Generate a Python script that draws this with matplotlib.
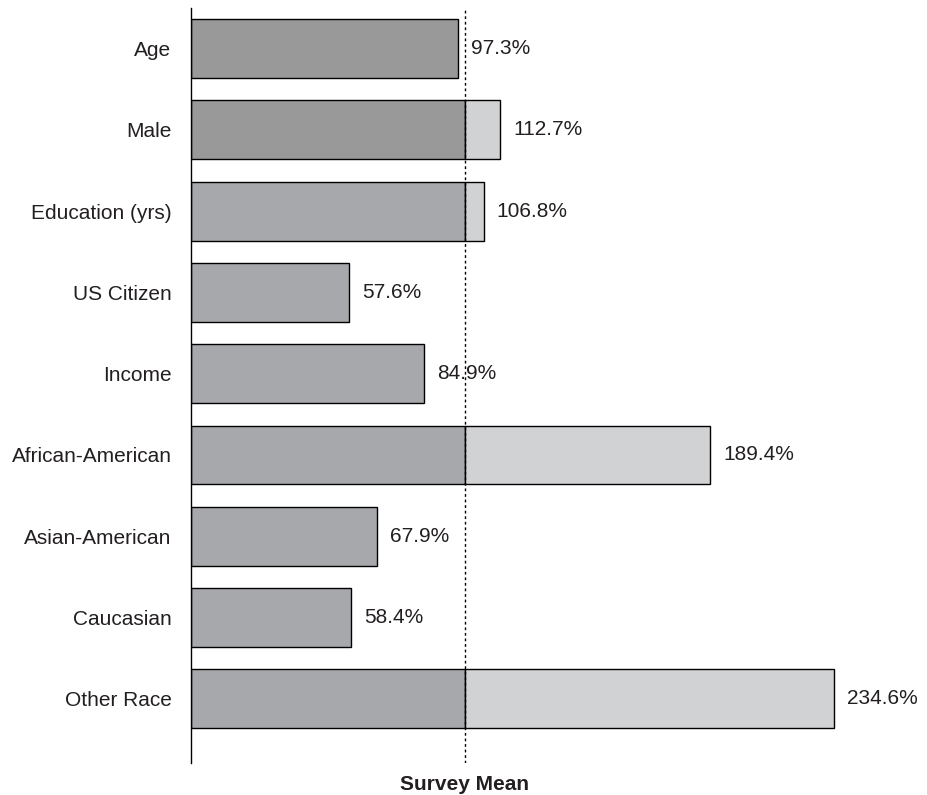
import matplotlib.pyplot as plt
from matplotlib.transforms import blended_transform_factory

plt.rcParams["font.family"] = ["Liberation Sans", "DejaVu Sans"]

categories = [
    "Age",
    "Male",
    "Education (yrs)",
    "US Citizen",
    "Income",
    "African-American",
    "Asian-American",
    "Caucasian",
    "Other Race",
]
percent_of_mean = [97.3, 112.7, 106.8, 57.6, 84.9, 189.4, 67.9, 58.4, 234.6]
base_colors = ["#999999", "#999999"] + ["#a7a8ab"] * 7
excess_color = "#d1d2d4"
survey_mean = 100.0
text_color = "#231f20"


def main() -> None:
    fig = plt.figure(figsize=(9.27, 7.95), dpi=100)
    ax = fig.add_axes([191 / 927, 32 / 795, 1 - 191 / 927, 755 / 795])

    ypos = list(range(len(categories)))
    base = [min(v, survey_mean) for v in percent_of_mean]
    excess = [max(v - survey_mean, 0) for v in percent_of_mean]

    ax.barh(ypos, base, height=0.725, color=base_colors,
            edgecolor="black", linewidth=1.0, zorder=2)
    for y, e in zip(ypos, excess):
        if e > 0:
            ax.barh(y, e, left=survey_mean, height=0.725, color=excess_color,
                    edgecolor="black", linewidth=1.0, zorder=2)

    for y, v in zip(ypos, percent_of_mean):
        ax.annotate(f"{v:.1f}%", (v, y), xytext=(9.5, 0), textcoords="offset points",
                    ha="left", va="center", fontsize=15, color=text_color)

    ax.axvline(survey_mean, color="black", linestyle=(0, (2, 2)), linewidth=1.0, zorder=3)

    ax.set_xlim(0, (927 - 191) / 274 * 100)
    ax.set_ylim(len(categories) - 1 + 0.79, -0.5)
    ax.set_yticks(ypos)
    ax.set_yticklabels(categories, fontsize=15, color=text_color)
    ax.tick_params(axis="y", length=0, pad=14)
    ax.set_xticks([])
    for side in ("top", "right", "bottom"):
        ax.spines[side].set_visible(False)
    ax.spines["left"].set_linewidth(1.0)

    trans = blended_transform_factory(ax.transData, fig.transFigure)
    ax.text(survey_mean, 11 / 795, "Survey Mean", transform=trans,
            ha="center", va="center", fontsize=15, fontweight="bold", color=text_color)

    fig.savefig("out.png", dpi=100)


if __name__ == "__main__":
    main()
